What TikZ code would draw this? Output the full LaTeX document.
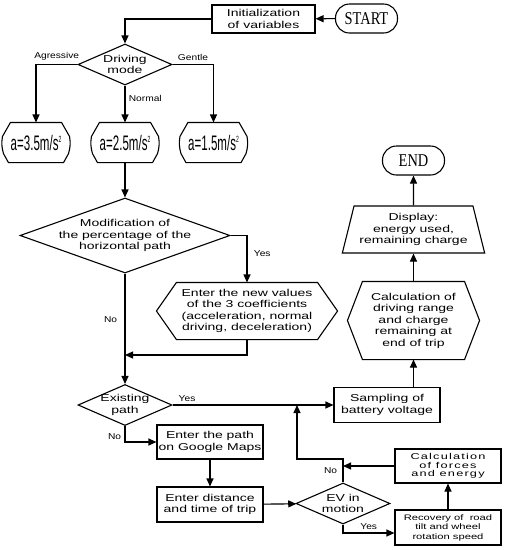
\documentclass[tikz,border=0pt]{standalone}
\usepackage{fontspec}
\setmainfont{Liberation Sans}[FakeStretch=1.4]
\newfontfamily\endsfont{Liberation Serif}[FakeStretch=0.8]
\newfontfamily\accelfont{Liberation Sans}[FakeStretch=0.55]
\newfontfamily\widefont{Liberation Sans}[FakeStretch=1.5,LetterSpace=14]
\newfontfamily\tagfont{Liberation Sans}[FakeStretch=1.2]
\usetikzlibrary{arrows.meta,shapes.geometric}
\newcommand{\sqr}{\raisebox{8pt}{\fontsize{9}{9}\selectfont 2}}
\newcommand{\hexdraw}[2]{\draw ([xshift=#2]#1.north west) -- ([xshift=-#2]#1.north east) -- (#1.east) -- ([xshift=-#2]#1.south east) -- ([xshift=#2]#1.south west) -- (#1.west) -- cycle;}
\newcommand{\octdraw}[1]{\draw ([xshift=8pt]#1.north west) -- ([xshift=-8pt]#1.north east) -- ([yshift=-14pt]#1.north east) to[bend left=12] ([yshift=9pt,xshift=-1pt]#1.south east) -- ([xshift=-6pt]#1.south east) -- ([xshift=6pt]#1.south west) -- ([yshift=9pt,xshift=1pt]#1.south west) to[bend left=12] ([yshift=-14pt]#1.north west) -- cycle;}

\begin{document}
\begin{tikzpicture}[x=1pt,y=-1pt,>={Triangle[length=8pt,width=7pt]},line width=1.1pt,
every node/.style={font=\fontsize{10}{11.5}\selectfont,align=center},
box/.style={draw,rectangle,inner sep=1pt,minimum width=106,minimum height=35},
term/.style={draw,rectangle,rounded corners=14pt,minimum width=62,minimum height=29,font=\endsfont\fontsize{18}{20}\selectfont},
decision/.style={draw,diamond,inner sep=0pt,minimum width=94,minimum height=41},
accel/.style={rectangle,inner sep=0pt,minimum width=66,minimum height=39,font=\accelfont\fontsize{21}{23}\selectfont},
hexa/.style={rectangle,inner sep=0pt},
tag/.style={font=\tagfont\fontsize{8.5}{10}\selectfont}]
\useasboundingbox (0,0) rectangle (505,550);
\node[term] (start) at (366.5,18.5) {START};
\node[box,minimum width=103,minimum height=28] (init) at (263.5,19) {Initialization\\of variables};
\node[decision,label={center:Driving\\mode}] (drive) at (125,64.5) {};
\node[accel] (acc1) at (36,142.5) {a=3.5m/s\sqr};
\node[accel] (acc2) at (125,142.5) {a=2.5m/s\sqr};
\node[accel] (acc3) at (213.5,142.5) {a=1.5m/s\sqr};
\octdraw{acc1}
\octdraw{acc2}
\octdraw{acc3}
\node[decision,minimum width=210,minimum height=75,label={center:Modification of\\the percentage of the\\horizontal path}] (modif) at (125,235.5) {};
\node[hexa,minimum width=180,minimum height=56] (newval) at (247,311) {Enter the new values\\of the 3 coefficients\\(acceleration, normal\\driving, deceleration)};
\hexdraw{newval}{20pt}
\node[decision,label={center:Existing\\path}] (exist) at (125,405) {};
\node[box] (samp) at (387,405) {Sampling of\\battery voltage};
\node[box,minimum height=34] (gmap) at (210,442) {Enter the path\\on Google Maps};
\node[box] (dist) at (210,504.5) {Enter distance\\and time of trip};
\node[decision,label={center:EV in\\motion}] (ev) at (343,503.5) {};
\node[box,font=\fontsize{8}{9.5}\selectfont] (recov) at (448,527.5) {Recovery of\ \ road\\tilt and wheel\\rotation speed};
\node[box,minimum height=34,font=\widefont\fontsize{8.5}{8.5}\selectfont] (forces) at (448,466) {Calculation\\of forces\\and energy};
\node[hexa,minimum width=131,minimum height=77] (calc) at (413.5,320.5) {Calculation of\\driving range\\and charge\\remaining at\\end of trip};
\hexdraw{calc}{15pt}
\node[draw,trapezium,trapezium left angle=76,trapezium right angle=76,inner xsep=2pt,inner ysep=6pt,minimum height=47] (disp) at (413.5,229.5) {Display:\\energy used,\\remaining charge};
\node[term] (fin) at (413.5,160.5) {END};
\coordinate (merge) at (125,355);
\coordinate (evdown) at (343,533);
\coordinate (evup) at (343,459);
\coordinate (back) at (297,405);
\draw[->] (start) -- (init);
\draw[->] (init.west) -| (drive.north);
\draw[->] (drive.west) -| node[tag,pos=0.25,above]{Agressive} (acc1.north);
\draw[->] (drive.east) -| node[tag,pos=0.25,above]{Gentle} (acc3.north);
\draw[->] (drive) -- node[tag,pos=0.35,right]{Normal} (acc2);
\draw[->] (acc2) -- (modif);
\draw[->] (modif.east) -| node[tag,pos=0.69,right,xshift=3pt]{Yes} (newval.north);
\draw[->] (newval.south) |- (merge);
\draw[->] (modif) -- node[tag,pos=0.42,left,xshift=-4pt]{No} (exist);
\draw[->] (exist) -- node[tag,pos=0.09,above]{Yes} (samp);
\draw[->] (exist.south) |- node[tag,pos=0.33,left]{No} (gmap.west);
\draw[->] (gmap) -- (dist);
\draw[->] (dist) -- (ev);
\draw[->] (ev.south) -- (evdown) -- node[tag,midway,above]{Yes} (evdown -| recov.west);
\draw[->] (recov) -- (forces);
\draw[->] (forces.west) -- (forces.west -| ev.north);
\draw[->] (ev.north) -- node[tag,midway,left,xshift=-2pt]{No} (evup) -| (back);
\draw[->] (samp.north -| calc) -- (calc.south);
\draw[->] (calc) -- (disp);
\draw[->] (disp) -- (fin);
\end{tikzpicture}
\end{document}
